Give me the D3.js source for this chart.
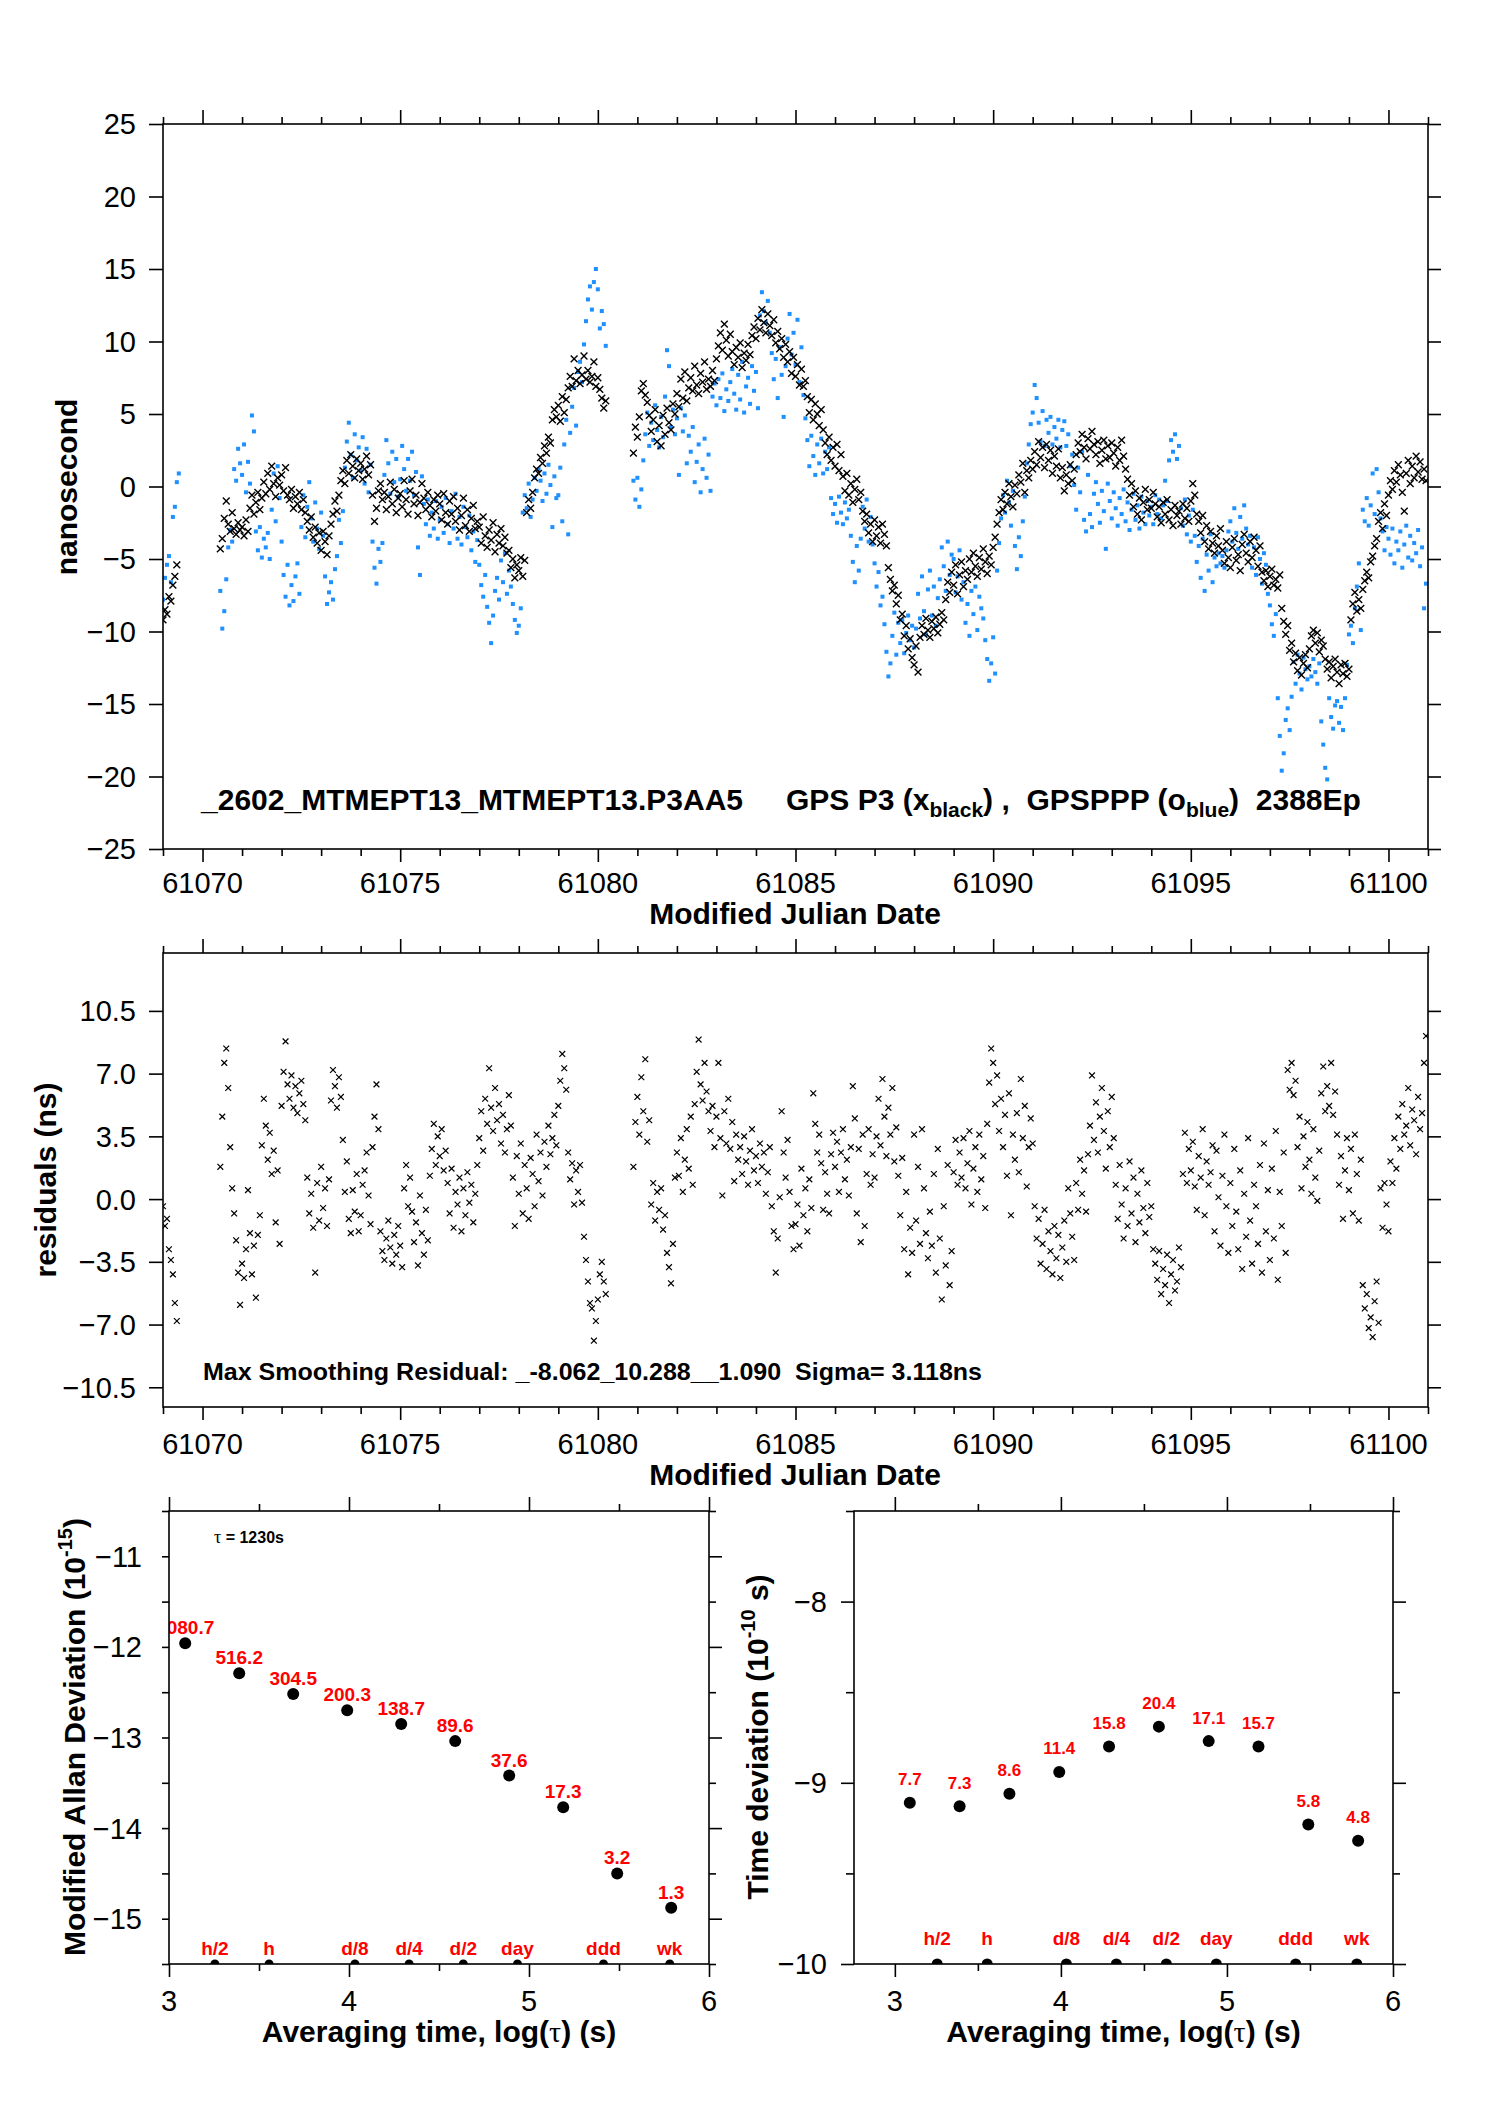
<!DOCTYPE html>
<html>
<head>
<meta charset="utf-8">
<title>GPS P3 / GPSPPP 2602 MTMEPT13</title>
<script src="https://cdn.jsdelivr.net/npm/d3@7/dist/d3.min.js"></script>
<style>
  body { margin: 0; background: #fff; }
  svg text { font-family: "Liberation Sans", Arial, Helvetica, sans-serif; }
</style>
</head>
<body>
<svg id="chart" width="1488" height="2105"></svg>
<script>
const N = null;
const mjdStart = 61069;
const mjdStep = 0.05;   // one value every 0.05 day, one row per day

// GPS P3 (black x), ns
const p3Ns = [
  -9.2,-8.5,-8.8,-7.6,-7.9,-6.8,-6.2,-5.4,N,N,N,N,N,N,N,N,N,N,N,N,
  N,N,N,N,N,N,N,N,N,-4.3,-3.6,-2.2,-1.0,-2.6,-3.1,-1.8,-2.9,-3.3,-2.5,-3.0,
  -2.8,-3.4,-2.3,-3.1,-1.5,-0.6,-1.9,-1.1,-0.4,-1.6,-0.8,0.3,-0.5,0.9,-0.2,1.4,0.2,-0.7,0.6,0.1,
  0.8,-0.3,1.3,-0.6,-0.9,-0.2,-1.5,-0.7,-1.2,-0.4,-1.6,-0.9,-1.8,-2.4,-3.0,-2.1,-3.5,-2.8,-3.9,-3.2,
  -4.4,-3.1,-3.8,-4.7,-3.4,-2.6,-1.9,-1.0,-1.7,-0.6,0.4,1.1,0.2,1.8,0.9,2.2,1.4,0.6,1.9,1.1,
  1.6,0.5,1.2,2.1,0.8,1.5,-0.6,-2.4,-1.5,-0.3,0.2,-0.9,-0.4,-1.6,-0.7,0.3,-1.2,-0.2,-1.8,-0.8,
  -0.5,-1.4,0.4,-0.9,-1.9,-0.3,0.5,-1.2,-0.6,-2.0,-1.1,0.2,-0.8,-1.6,-0.4,-1.3,-2.1,-0.9,-1.7,-0.6,
  -1.2,-2.3,-0.5,-1.8,-2.6,-1.0,-1.9,-0.7,-2.4,-1.5,-3.0,-2.0,-0.8,-2.7,-1.6,-3.1,-2.2,-1.3,-2.9,-2.4,
  -2.8,-3.9,-2.1,-3.4,-4.2,-3.0,-3.7,-2.5,-4.5,-3.3,-3.9,-2.9,-4.1,-3.5,-4.6,-4.4,-5.6,-5.0,-6.3,-5.4,
  -5.8,-4.9,-6.2,-5.1,-1.8,-0.9,-1.5,-0.4,0.6,1.2,0.9,2.0,1.6,2.8,2.3,3.4,3.0,4.6,5.3,4.8,
  5.6,4.5,6.2,5.1,6.0,6.8,7.6,6.9,8.8,7.3,8.0,7.1,7.7,9.0,7.4,8.0,7.2,7.6,8.6,6.9,
  7.5,6.7,6.1,5.4,5.9,N,N,N,N,N,N,N,N,N,N,N,N,N,2.3,4.1,
  3.4,4.8,6.6,7.1,6.3,5.8,4.9,3.8,4.6,5.3,3.1,4.2,2.8,4.9,3.6,5.4,4.4,3.9,5.7,5.0,
  6.4,5.5,7.4,6.1,7.9,5.9,6.8,7.5,6.6,8.3,7.0,6.4,7.8,7.2,8.6,6.7,7.4,6.9,8.0,7.3,
  8.8,9.7,10.6,9.4,11.2,10.1,9.0,10.5,9.3,8.4,9.6,8.9,9.9,8.2,9.2,8.7,9.8,9.1,10.4,11.0,
  10.2,11.6,10.8,12.2,11.3,10.6,11.9,11.1,10.4,11.5,9.9,10.7,9.5,10.2,8.9,9.8,8.6,9.3,7.8,8.9,
  7.6,8.4,7.0,8.1,6.9,7.3,6.2,5.1,6.0,4.6,5.7,5.0,4.2,5.3,3.9,3.0,2.2,3.4,1.8,2.7,
  1.4,2.9,1.1,2.2,0.7,-0.3,0.9,-0.6,0.2,-1.1,-0.2,0.5,-0.9,-0.4,-1.7,-2.4,-1.9,-3.2,-2.6,-3.8,
  -2.3,-3.4,-2.8,-3.9,-2.6,-3.3,-4.1,-5.6,-6.4,-7.2,-6.8,-8.1,-7.5,-9.2,-8.8,-10.3,-9.6,-11.2,-10.5,-11.8,
  -12.3,-11.0,-12.8,-10.4,-9.6,-10.2,-9.1,-9.9,-10.4,-9.3,-9.8,-9.0,-10.1,-9.5,-8.7,-9.2,-7.8,-6.6,-7.3,-5.9,
  -6.8,-5.4,-7.4,-6.1,-5.2,-6.9,-5.8,-6.4,-5.0,-5.9,-4.6,-5.5,-6.2,-4.9,-5.7,-4.3,-5.2,-6.0,-4.8,-5.4,
  -4.2,-3.5,-2.6,-1.8,-0.9,-1.6,-0.4,-1.2,0.2,-0.7,-1.4,0.1,-0.5,0.8,0.3,1.6,-0.4,1.1,0.6,1.8,
  1.2,2.4,1.5,3.1,2.0,2.7,1.3,2.9,1.8,2.5,0.9,2.1,1.4,2.6,0.6,1.3,-0.3,0.8,0.2,1.5,
  0.4,1.2,2.2,3.0,2.4,3.6,2.7,1.9,3.3,2.6,3.8,2.9,2.2,3.1,1.6,2.5,3.2,1.9,2.8,2.0,
  3.0,2.3,1.4,2.7,1.8,3.2,2.1,1.2,0.5,-0.6,0.2,-1.4,-0.3,-1.9,-0.8,-2.3,-1.1,-0.2,-1.6,-0.9,
  -1.5,-0.4,-1.2,-2.1,-1.4,-2.5,-1.1,-1.9,-0.9,-2.3,-1.6,-2.7,-1.3,-2.0,-1.7,-2.6,-1.2,-2.2,-1.5,-2.4,
  -1.0,0.2,-0.6,-1.9,-2.4,-3.2,-2.0,-3.8,-2.7,-4.3,-3.1,-3.9,-4.6,-3.4,-4.1,-2.9,-4.4,-5.3,-3.8,-4.9,
  -5.6,-4.2,-3.6,-5.1,-4.7,-5.8,-4.0,-3.3,-4.6,-5.2,-3.8,-4.9,-3.5,-4.4,-5.5,-4.1,-5.9,-6.5,-5.8,-6.9,
  -6.2,-5.7,-6.8,-6.4,-7.0,-6.1,-8.4,-9.3,-10.2,-9.6,-11.3,-10.8,-12.1,-11.5,-12.7,-11.8,-13.0,-12.2,-11.6,-12.5,
  -11.2,-10.3,-9.9,-10.8,-10.1,-11.4,-10.6,-11.0,-11.9,-12.6,-12.1,-13.2,-12.4,-11.9,-12.8,-13.6,-12.3,-12.9,-12.2,-13.1,
  -12.6,-9.2,-8.1,-7.3,-8.6,-7.8,-8.4,-7.1,-6.5,-5.9,-6.3,-5.2,-4.8,-4.1,-3.6,-2.4,-1.8,-2.9,-1.2,-2.0,
  -0.6,0.4,-0.2,1.1,0.3,1.5,0.8,-0.4,-1.7,0.9,1.8,0.2,1.4,0.6,2.1,1.0,1.7,0.5,1.2,0.4
];

// GPSPPP (blue), ns
const pppNs = [
  -7.8,-6.3,-5.4,-4.8,-6.6,-2.1,-1.4,0.3,0.9,N,N,N,N,N,N,N,N,N,N,N,
  N,N,N,N,N,N,N,N,N,-7.2,-9.8,-8.6,-6.4,-4.2,-3.0,-3.8,1.2,0.4,2.6,1.6,
  0.8,2.9,-0.4,1.7,0.2,4.9,3.8,-3.1,-4.4,-2.8,-4.9,-3.6,-4.2,-3.2,-5.0,-1.6,0.9,-2.4,1.4,-0.8,
  -3.8,-6.1,-7.6,-5.4,-8.2,-6.8,-7.9,-6.2,-5.3,-7.4,-2.8,-0.6,-3.5,-1.4,0.3,-2.2,-3.8,-1.1,-2.9,-4.3,
  -1.8,-3.4,-6.2,-8.1,-7.3,-6.6,-7.8,-5.7,-4.8,-2.3,-3.9,-1.7,1.3,3.1,4.4,2.2,0.6,3.6,1.8,2.7,
  1.1,3.4,0.2,2.6,-0.4,1.5,-3.8,-5.6,-6.7,-4.3,-5.2,-3.9,0.8,3.2,1.6,-0.5,2.4,0.3,1.9,-0.7,
  0.5,2.8,1.2,-0.3,1.9,0.4,2.4,-0.6,1.0,-4.2,-6.1,0.7,-1.2,-2.6,-0.9,-3.4,-1.8,-2.9,-1.0,-3.6,
  -2.3,-1.4,-3.2,-0.8,-2.6,-3.9,-1.7,-2.9,-0.5,-3.6,-2.1,-4.0,-1.4,-2.8,-3.5,-2.0,-4.4,-3.1,-5.2,-3.7,
  -5.4,-6.8,-7.6,-6.1,-8.3,-9.4,-10.8,-8.9,-7.2,-6.3,-7.8,-5.1,-6.6,-4.6,-7.4,-5.8,-6.9,-8.1,-9.2,-10.1,
  -9.6,-8.4,-1.8,-0.6,-1.5,0.2,-2.1,-0.9,0.6,-0.3,1.2,0.4,-1.0,0.9,-0.5,1.5,0.1,-2.8,0.7,-0.8,
  -0.6,1.3,-2.4,2.9,4.6,-3.3,3.7,5.5,6.8,4.2,7.9,8.6,7.2,9.8,11.4,12.9,13.8,12.2,14.1,15.0,
  13.6,10.9,12.1,11.2,9.7,N,N,N,N,N,N,N,N,N,N,N,N,N,0.4,-0.9,
  0.6,-1.4,-0.2,1.8,3.6,5.1,2.8,4.4,3.2,5.6,3.9,2.7,4.8,3.4,6.2,9.4,8.3,4.1,5.3,3.6,
  4.7,0.8,5.4,3.8,4.9,1.6,3.5,2.4,4.1,0.3,1.7,2.9,-0.4,1.2,3.3,0.6,2.2,-0.3,6.2,7.1,
  5.6,7.4,6.1,7.8,5.2,6.7,5.9,7.2,8.1,6.4,5.3,7.7,6.0,8.6,5.1,6.9,7.5,5.7,8.3,6.6,
  7.9,5.4,11.8,13.4,12.1,11.3,12.8,10.6,9.2,7.4,8.8,6.1,9.6,7.7,4.8,8.3,10.2,11.9,9.1,10.6,
  8.4,11.5,7.2,9.6,6.3,4.7,3.2,1.4,3.5,2.1,0.8,2.9,1.6,3.3,0.9,2.4,1.2,2.7,-0.8,-1.9,
  -1.2,-2.5,-0.7,-1.8,-2.6,-1.1,-2.2,-1.6,-3.4,-5.2,-6.6,-4.1,-5.8,-3.6,-1.4,-2.9,-0.9,-3.8,-2.1,-4.0,
  -5.3,-6.9,-5.9,-8.2,-7.6,-9.5,-11.4,-13.1,-12.2,-10.3,-8.7,-11.6,-9.4,-10.8,-9.2,-11.5,-10.1,-8.9,-10.6,-9.6,
  -11.1,-9.8,-7.4,-9.1,-6.2,-8.6,-10.2,-7.1,-5.8,-8.9,-6.9,-9.6,-7.7,-6.4,-4.2,-5.5,-7.2,-3.8,-6.1,-4.7,
  -5.0,-7.3,-6.2,-4.4,-7.8,-6.6,-9.4,-8.1,-10.3,-7.2,-8.8,-6.9,-9.9,-7.6,-8.4,-9.1,-10.6,-11.9,-13.4,-12.2,
  -10.4,-12.9,-5.8,-3.9,-2.2,-0.6,-1.8,0.4,-1.1,-2.7,-0.3,-4.1,-5.7,-3.5,-4.8,-2.4,-0.7,1.6,2.9,4.3,
  5.1,7.0,6.1,4.4,3.1,5.2,2.8,4.6,3.7,4.8,2.9,4.1,3.3,4.6,2.7,3.9,4.5,2.8,3.6,1.4,
  2.2,0.1,-1.6,1.3,-0.4,2.4,-2.3,-3.1,0.8,-1.9,-2.8,-0.5,0.3,-1.2,-2.5,-0.3,-1.7,-4.3,0.2,-1.0,
  -2.2,-0.4,-1.5,-2.7,-0.8,-1.9,-0.2,-2.4,-1.1,-3.0,-1.6,-0.5,-2.3,-1.3,-2.9,-0.7,-1.8,-2.6,-1.0,-2.0,
  -1.4,-2.6,-0.6,-1.9,-0.9,-2.2,-1.3,0.4,-1.0,1.8,3.2,2.4,3.6,1.9,2.8,-1.5,-2.7,-0.9,-3.3,-2.0,
  -3.8,-1.6,-3.4,-5.2,-4.1,-6.3,-3.6,-7.2,-4.7,-5.8,-3.3,-6.6,-4.9,-5.5,-4.6,-5.3,-4.8,-5.6,-4.4,-3.1,
  -2.4,-3.8,-1.5,-3.2,-4.3,-2.1,-3.6,-1.3,-2.9,-4.0,-3.4,-5.6,-4.2,-6.1,-3.5,-5.0,-6.7,-4.6,-5.4,-7.4,
  -8.2,-9.5,-10.3,-8.8,-14.6,-17.2,-19.6,-18.4,-16.1,-15.3,-16.8,-14.5,-12.1,-13.6,-11.6,-12.9,-14.0,-11.8,-12.6,-13.3,
  -12.4,-13.1,-11.9,-12.8,-13.6,-12.2,-16.2,-17.8,-19.4,-20.2,-14.6,-15.9,-16.7,-15.1,-14.8,-16.3,-15.2,-16.8,-14.6,-12.3,
  -10.2,-9.6,-10.8,-8.4,-6.9,-5.3,-9.9,-1.6,-2.4,-0.8,-2.7,-1.3,0.9,-1.9,1.2,-0.4,-2.2,-3.1,-4.4,-2.8,
  -3.6,-4.7,-2.9,-5.3,-3.8,-4.4,-3.1,-5.6,-4.0,-2.7,-4.9,-3.4,-5.1,-3.9,-4.6,-3.0,-5.5,-4.2,-8.4,-6.7
];

// smoothing residuals (black x), ns
const residNs = [
  -0.4,-1.5,-1.1,-2.8,-3.4,-4.2,-5.8,-6.8,N,N,N,N,N,N,N,N,N,N,N,N,
  N,N,N,N,N,N,N,N,N,1.8,4.6,7.6,8.4,6.2,2.9,0.6,-0.8,-2.3,-4.1,-5.9,
  -3.6,-4.4,-2.8,0.5,-1.9,-4.2,-2.6,-5.5,-2.0,-0.9,3.0,5.6,4.1,2.2,3.7,1.4,2.7,-1.3,1.6,-2.5,
  5.2,7.1,8.8,6.4,5.6,6.9,5.1,6.3,4.8,5.9,6.6,5.3,4.4,1.2,-0.8,0.3,-1.6,-4.1,0.9,-1.2,
  1.8,-0.5,0.6,-1.5,1.1,5.5,7.2,6.3,5.1,6.8,5.7,3.3,0.4,2.1,-1.1,-1.9,0.5,-0.7,1.4,-1.8,
  -0.9,0.8,1.6,2.6,0.2,-1.4,2.9,4.6,6.4,3.9,-1.8,-2.9,-3.4,-2.2,-1.2,-2.7,-3.6,-2.0,-3.1,-1.5,
  -2.6,-3.8,0.6,1.9,-0.4,1.2,-0.7,-2.4,-1.3,-3.7,0.2,-1.9,-3.1,-0.6,-2.3,1.3,2.8,4.2,1.9,3.5,
  2.4,3.9,1.6,2.7,0.9,-0.8,1.7,-1.6,0.4,-0.3,1.2,-1.8,0.6,-0.9,1.5,-0.2,0.8,-1.3,0.3,1.9,
  3.4,4.9,2.7,5.6,4.2,7.3,5.1,3.8,6.2,4.4,5.3,3.1,4.7,2.6,3.9,5.8,4.1,1.2,-1.5,2.4,
  0.3,3.1,-0.8,1.9,0.6,-1.1,2.3,1.4,-0.4,3.6,1.0,2.6,0.2,3.2,1.8,4.1,2.5,3.4,4.7,3.0,
  5.2,6.6,8.1,7.3,6.1,2.6,1.1,2.0,-0.3,1.6,0.4,1.9,-0.2,-2.1,-3.4,-4.6,-5.8,-6.1,-7.9,-6.8,
  -5.6,-4.2,-3.5,-4.6,-5.3,N,N,N,N,N,N,N,N,N,N,N,N,N,1.8,4.3,
  5.7,3.6,6.8,4.9,7.8,3.2,4.4,-0.3,0.9,-1.2,0.4,-0.6,0.6,-1.7,-0.9,-3.0,-3.8,-4.7,-2.5,1.2,
  2.6,1.3,3.4,0.4,2.2,3.9,1.7,4.6,0.8,5.3,7.1,8.9,6.4,5.5,7.6,6.0,4.9,3.8,5.2,2.9,
  4.6,7.6,3.4,0.2,4.9,3.1,5.6,2.8,4.3,1.0,3.6,2.2,2.9,1.4,3.5,2.1,0.8,2.7,3.9,1.6,
  2.4,0.9,3.1,1.8,2.6,0.3,1.5,2.9,-0.4,-1.8,-4.1,-2.2,0.1,4.9,2.6,1.2,3.3,0.4,-1.5,-2.8,
  -1.4,-0.3,-2.6,1.7,-0.9,0.6,-1.8,1.1,-0.5,5.9,4.2,2.6,3.6,2.0,-0.6,1.5,0.3,-0.8,2.5,3.7,
  1.8,3.2,0.4,2.6,3.9,1.1,2.2,0.2,2.9,6.3,4.5,-0.8,2.8,-2.4,3.6,-1.5,1.4,3.9,0.8,2.5,
  1.2,3.5,5.6,3.0,6.7,4.6,2.4,5.1,3.6,6.2,2.1,4.0,1.3,-0.9,2.3,-2.8,0.4,-4.2,-1.6,-3.0,
  3.6,-1.2,1.8,-2.5,3.9,0.6,-1.9,-3.3,-0.7,-2.6,1.4,-4.1,2.8,-2.2,-5.6,-0.4,-3.7,1.9,-4.8,-2.9,
  1.5,3.3,0.8,2.6,1.2,3.4,0.6,2.0,3.8,-0.3,1.7,2.9,0.4,3.6,1.1,2.4,-0.5,4.2,6.5,8.4,
  7.6,5.3,6.9,3.8,5.6,2.9,4.7,1.3,5.9,-0.9,3.6,2.2,4.8,1.5,6.7,3.4,5.2,0.7,2.9,4.5,
  3.1,-0.4,-2.2,-1.1,-3.6,-2.5,-0.6,-3.9,-1.8,-2.9,-4.2,-1.5,-3.3,-2.0,-4.4,-2.7,-1.2,-3.5,0.6,-0.8,
  -2.1,-3.4,0.9,-0.6,2.2,0.3,1.6,-0.7,2.5,4.1,6.9,3.3,5.4,2.6,4.6,6.2,3.8,1.7,4.9,2.9,
  5.7,3.4,0.8,-1.1,1.9,-0.3,-2.2,0.6,-1.5,2.1,-0.8,1.2,-2.4,0.3,-1.3,1.6,-0.5,-1.9,0.9,-1.0,
  -0.4,-2.8,-3.6,-4.5,-2.9,-5.3,-3.9,-4.8,-3.1,-5.8,-4.2,-3.4,-5.1,-4.6,-2.7,-3.8,1.4,3.7,0.9,2.8,
  1.6,3.2,0.7,-0.6,2.4,1.2,3.9,-0.9,2.1,0.8,1.5,3.0,-1.8,2.7,0.1,-2.6,1.3,3.6,-0.4,-3.0,
  0.9,-1.5,2.8,-0.7,-2.8,1.6,-3.9,0.3,-2.1,3.4,-1.2,-3.6,0.8,-0.4,-2.5,1.9,-4.1,3.1,-1.8,0.5,
  -3.4,1.7,-2.2,3.8,-4.5,0.4,-1.5,2.6,-3.0,7.2,6.1,7.6,5.8,6.6,2.9,4.6,0.6,3.5,1.8,4.3,
  2.2,0.3,3.9,1.2,-0.1,2.7,5.9,7.4,4.9,6.3,5.2,7.6,4.7,6.0,3.6,0.8,2.4,-1.1,1.6,3.4,
  0.5,2.8,-0.8,3.6,1.4,-1.2,2.2,-4.8,-6.1,-5.3,-7.2,-6.6,-7.7,-5.7,-4.6,-6.9,0.6,-1.6,0.9,-0.3,
  -1.8,2.1,0.9,3.4,1.7,4.6,2.8,5.3,3.6,4.1,6.2,3.0,5.0,4.4,2.5,5.7,3.9,4.8,7.6,9.1
];

// stability plots
const logTau = [3.09, 3.39, 3.69, 3.99, 4.29, 4.59, 4.89, 5.19, 5.49, 5.79];
const madevLog = [-11.96, -12.29, -12.52, -12.70, -12.85, -13.04, -13.42, -13.77, -14.50, -14.88];
const madevLabels = ["1080.7", "516.2", "304.5", "200.3", "138.7", "89.6", "37.6", "17.3", "3.2", "1.3"];
const tdevLog = [-9.11, -9.13, -9.06, -8.94, -8.80, -8.69, -8.77, -8.80, -9.23, -9.32];
const tdevLabels = ["7.7", "7.3", "8.6", "11.4", "15.8", "20.4", "17.1", "15.7", "5.8", "4.8"];
const spanLogTau = [3.255, 3.556, 4.033, 4.334, 4.635, 4.936, 5.414, 5.782];
const spanLabels = ["h/2", "h", "d/8", "d/4", "d/2", "day", "ddd", "wk"];

const RED = "#ff0000", BLUE = "#1e90ff", LW = 1.6;
const svg = d3.select('#chart');
svg.append('rect').attr('width', 1488).attr('height', 2105).attr('fill', '#fff');

function series(vals) {
  const out = [];
  vals.forEach((v, i) => { if (v !== null) out.push([mjdStart + i * mjdStep, v]); });
  return out;
}
function fmt(v, digits) {
  const s = Math.abs(v).toFixed(digits);
  return v < 0 ? '\u2212' + s : s;
}
function tickAxis(g, axis, tr) {
  g.append('g').attr('transform', tr).call(axis)
    .call(a => a.select('.domain').remove())
    .call(a => a.selectAll('text').remove())
    .selectAll('line').attr('stroke', '#000').attr('stroke-width', LW);
}
function frame(g, x, y, t) {
  const [x0, x1] = x.range();
  const [yb, yt] = y.range();
  if (t.xMinor) {
    tickAxis(g, d3.axisTop(x).tickValues(t.xMinor).tickSize(7), `translate(0,${yt})`);
    tickAxis(g, d3.axisBottom(x).tickValues(t.xMinor).tickSize(7), `translate(0,${yb})`);
  }
  tickAxis(g, d3.axisTop(x).tickValues(t.xMajor).tickSize(14), `translate(0,${yt})`);
  tickAxis(g, d3.axisBottom(x).tickValues(t.xMajor).tickSize(13), `translate(0,${yb})`);
  if (t.yMinor) {
    tickAxis(g, d3.axisLeft(y).tickValues(t.yMinor).tickSize(t.leftMinor), `translate(${x0},0)`);
    tickAxis(g, d3.axisRight(y).tickValues(t.yMinor).tickSize(7), `translate(${x1},0)`);
  }
  tickAxis(g, d3.axisLeft(y).tickValues(t.yMajor).tickSize(t.leftMajor), `translate(${x0},0)`);
  tickAxis(g, d3.axisRight(y).tickValues(t.yMajor).tickSize(13), `translate(${x1},0)`);
  g.append('rect').attr('x', x0).attr('y', yt).attr('width', x1 - x0).attr('height', yb - yt)
    .attr('fill', 'none').attr('stroke', '#000').attr('stroke-width', LW);
}
function xLabels(g, x, vals, yBase, f) {
  g.selectAll(null).data(vals).join('text')
    .attr('x', d => x(d)).attr('y', yBase).attr('text-anchor', 'middle')
    .attr('font-size', 29).text(f);
}
function yLabels(g, y, vals, xRight, f) {
  g.selectAll(null).data(vals).join('text')
    .attr('x', xRight).attr('y', d => y(d)).attr('dy', '0.36em').attr('text-anchor', 'end')
    .attr('font-size', 29).text(f);
}
function clipRect(id, x, y) {
  const [x0, x1] = x.range(), [yb, yt] = y.range();
  svg.append('clipPath').attr('id', id).append('rect')
    .attr('x', x0).attr('y', yt).attr('width', x1 - x0).attr('height', yb - yt);
  return `url(#${id})`;
}
function title(g, text, x, y, rot) {
  return g.append('text').attr('transform', `translate(${x},${y})` + (rot ? ' rotate(-90)' : ''))
    .attr('text-anchor', 'middle').attr('font-size', 30).attr('font-weight', 'bold').text(text);
}
const cross = s => `M${-s},${-s}L${s},${s}M${-s},${s}L${s},${-s}`;

// ---------- panel 1 : time differences ----------
const mjdMajor = d3.range(61070, 61101, 5);
const mjdMinor = d3.range(61069, 61102, 1).filter(d => d % 5 !== 0);
const x1 = d3.scaleLinear().domain([61069, 61101]).range([163, 1428]);
const y1 = d3.scaleLinear().domain([-25, 25]).range([849, 124]);
const g1 = svg.append('g');
const clip1 = clipRect('clip1', x1, y1);
const d1 = g1.append('g').attr('clip-path', clip1);
d1.selectAll('rect').data(series(pppNs)).join('rect')
  .attr('x', d => x1(d[0]) - 2).attr('y', d => y1(d[1]) - 2)
  .attr('width', 4).attr('height', 4).attr('fill', BLUE);
d1.selectAll('path').data(series(p3Ns)).join('path')
  .attr('transform', d => `translate(${x1(d[0])},${y1(d[1])})`)
  .attr('d', cross(3.4)).attr('stroke', '#000').attr('stroke-width', 1.4).attr('fill', 'none');
frame(g1, x1, y1, {xMajor: mjdMajor, xMinor: mjdMinor, yMajor: d3.range(-25, 26, 5), leftMajor: 14});
xLabels(g1, x1, mjdMajor, 893, d => d);
yLabels(g1, y1, d3.range(-25, 26, 5), 136, d => fmt(d, 0));
title(g1, 'nanosecond', 77, 487, true);
title(g1, 'Modified Julian Date', 795, 924, false);
g1.append('text').attr('x', 201).attr('y', 810).attr('font-size', 30).attr('font-weight', 'bold')
  .attr('textLength', 542).attr('lengthAdjust', 'spacingAndGlyphs')
  .text('_2602_MTMEPT13_MTMEPT13.P3AA5');
const leg = g1.append('text').attr('x', 786).attr('y', 810).attr('font-size', 30)
  .attr('font-weight', 'bold').style('white-space', 'pre');
leg.append('tspan').text('GPS P3 (x');
leg.append('tspan').attr('font-size', 21).attr('dy', 7).text('black');
leg.append('tspan').attr('dy', -7).text(') ,  GPSPPP (o');
leg.append('tspan').attr('font-size', 21).attr('dy', 7).text('blue');
leg.append('tspan').attr('dy', -7).text(')  2388Ep');

// ---------- panel 2 : residuals ----------
const x2 = d3.scaleLinear().domain([61069, 61101]).range([163, 1428]);
const y2 = d3.scaleLinear().domain([-11.6, 13.73]).range([1407, 953]);
const resTicks = [-10.5, -7, -3.5, 0, 3.5, 7, 10.5];
const g2 = svg.append('g');
const clip2 = clipRect('clip2', x2, y2);
g2.append('g').attr('clip-path', clip2).selectAll('path').data(series(residNs)).join('path')
  .attr('transform', d => `translate(${x2(d[0])},${y2(d[1])})`)
  .attr('d', cross(2.9)).attr('stroke', '#000').attr('stroke-width', 1.2).attr('fill', 'none');
frame(g2, x2, y2, {xMajor: mjdMajor, xMinor: mjdMinor, yMajor: resTicks, leftMajor: 14});
xLabels(g2, x2, mjdMajor, 1454, d => d);
yLabels(g2, y2, resTicks, 136, d => fmt(d, 1));
title(g2, 'residuals (ns)', 56, 1180, true);
title(g2, 'Modified Julian Date', 795, 1485, false);
g2.append('text').attr('x', 203).attr('y', 1380).attr('font-size', 24).attr('font-weight', 'bold')
  .attr('textLength', 779).attr('lengthAdjust', 'spacingAndGlyphs').style('white-space', 'pre')
  .text('Max Smoothing Residual: _-8.062_10.288__1.090  Sigma= 3.118ns');

// ---------- panel 3 : modified Allan deviation ----------
const tauMajor = [3, 4, 5, 6], tauMinor = [3.5, 4.5, 5.5];
const x3 = d3.scaleLinear().domain([3, 6]).range([169, 709]);
const y3 = d3.scaleLinear().domain([-15.5, -10.5]).range([1964, 1511]);
const g3 = svg.append('g');
const c3 = g3.append('g').attr('clip-path', clipRect('clip3', x3, y3));
c3.selectAll('circle.pt').data(d3.zip(logTau, madevLog)).join('circle')
  .attr('cx', d => x3(d[0])).attr('cy', d => y3(d[1])).attr('r', 6).attr('fill', '#000');
c3.selectAll('text.val').data(d3.zip(logTau, madevLog, madevLabels)).join('text')
  .attr('x', d => x3(d[0])).attr('y', d => y3(d[1]) - 9).attr('text-anchor', 'middle')
  .attr('font-size', 19).attr('font-weight', 'bold').attr('fill', RED).text(d => d[2]);
c3.selectAll('circle.span').data(spanLogTau).join('circle')
  .attr('cx', d => x3(d)).attr('cy', y3(-15.5)).attr('r', 4.5).attr('fill', '#000');
c3.selectAll('text.span').data(d3.zip(spanLogTau, spanLabels)).join('text')
  .attr('x', d => x3(d[0])).attr('y', y3(-15.5) - 9).attr('text-anchor', 'middle')
  .attr('font-size', 19).attr('font-weight', 'bold').attr('fill', RED).text(d => d[1]);
frame(g3, x3, y3, {xMajor: tauMajor, xMinor: tauMinor, yMajor: [-15, -14, -13, -12, -11],
  yMinor: [-15.5, -14.5, -13.5, -12.5, -11.5, -10.5], leftMajor: 7, leftMinor: 7});
xLabels(g3, x3, tauMajor, 2011, d => d);
yLabels(g3, y3, [-15, -14, -13, -12, -11], 142, d => fmt(d, 0));
const t3 = g3.append('text').attr('x', 214).attr('y', 1543).attr('font-size', 16).attr('font-weight', 'bold')
  .style('white-space', 'pre');
t3.append('tspan').attr('font-family', '"Liberation Serif", serif').attr('font-weight', 'normal')
  .attr('font-size', 18).text('\u03c4');
t3.append('tspan').text(' = 1230s');
const a3 = g3.append('text').attr('transform', 'translate(85,1737) rotate(-90)')
  .attr('text-anchor', 'middle').attr('font-size', 30).attr('font-weight', 'bold');
a3.append('tspan').text('Modified Allan Deviation (10');
a3.append('tspan').attr('font-size', 20).attr('dy', -13).text('-15');
a3.append('tspan').attr('dy', 13).text(')');

// ---------- panel 4 : time deviation ----------
const x4 = d3.scaleLinear().domain([2.754, 6]).range([854, 1393]);
const y4 = d3.scaleLinear().domain([-10, -7.5]).range([1964, 1511]);
const g4 = svg.append('g');
const c4 = g4.append('g').attr('clip-path', clipRect('clip4', x4, y4));
c4.selectAll('circle.pt').data(d3.zip(logTau, tdevLog)).join('circle')
  .attr('cx', d => x4(d[0])).attr('cy', d => y4(d[1])).attr('r', 6).attr('fill', '#000');
c4.selectAll('text.val').data(d3.zip(logTau, tdevLog, tdevLabels)).join('text')
  .attr('x', d => x4(d[0])).attr('y', d => y4(d[1]) - 17.5).attr('text-anchor', 'middle')
  .attr('font-size', 17).attr('font-weight', 'bold').attr('fill', RED).text(d => d[2]);
c4.selectAll('circle.span').data(spanLogTau).join('circle')
  .attr('cx', d => x4(d)).attr('cy', y4(-10)).attr('r', 5.5).attr('fill', '#000');
c4.selectAll('text.span').data(d3.zip(spanLogTau, spanLabels)).join('text')
  .attr('x', d => x4(d[0])).attr('y', y4(-10) - 19).attr('text-anchor', 'middle')
  .attr('font-size', 19).attr('font-weight', 'bold').attr('fill', RED).text(d => d[1]);
frame(g4, x4, y4, {xMajor: tauMajor, xMinor: tauMinor, yMajor: [-10, -9, -8],
  yMinor: [-9.5, -8.5, -7.5], leftMajor: 13, leftMinor: 8});
xLabels(g4, x4, tauMajor, 2011, d => d);
yLabels(g4, y4, [-10, -9, -8], 827, d => fmt(d, 0));
const a4 = g4.append('text').attr('transform', 'translate(768,1737) rotate(-90)')
  .attr('text-anchor', 'middle').attr('font-size', 30).attr('font-weight', 'bold').style('white-space', 'pre');
a4.append('tspan').text('Time deviation (10');
a4.append('tspan').attr('font-size', 20).attr('dy', -13).text('-10');
a4.append('tspan').attr('dy', 13).text(' s)');

// shared x titles of the stability plots
[[g3, 439], [g4, 1123.5]].forEach(([g, cx]) => {
  const t = g.append('text').attr('x', cx).attr('y', 2042).attr('text-anchor', 'middle')
    .attr('font-size', 30).attr('font-weight', 'bold');
  t.append('tspan').text('Averaging time, log(');
  t.append('tspan').attr('font-family', '"Liberation Serif", serif').attr('font-weight', 'normal').text('\u03c4');
  t.append('tspan').text(') (s)');
});
</script>
</body>
</html>
